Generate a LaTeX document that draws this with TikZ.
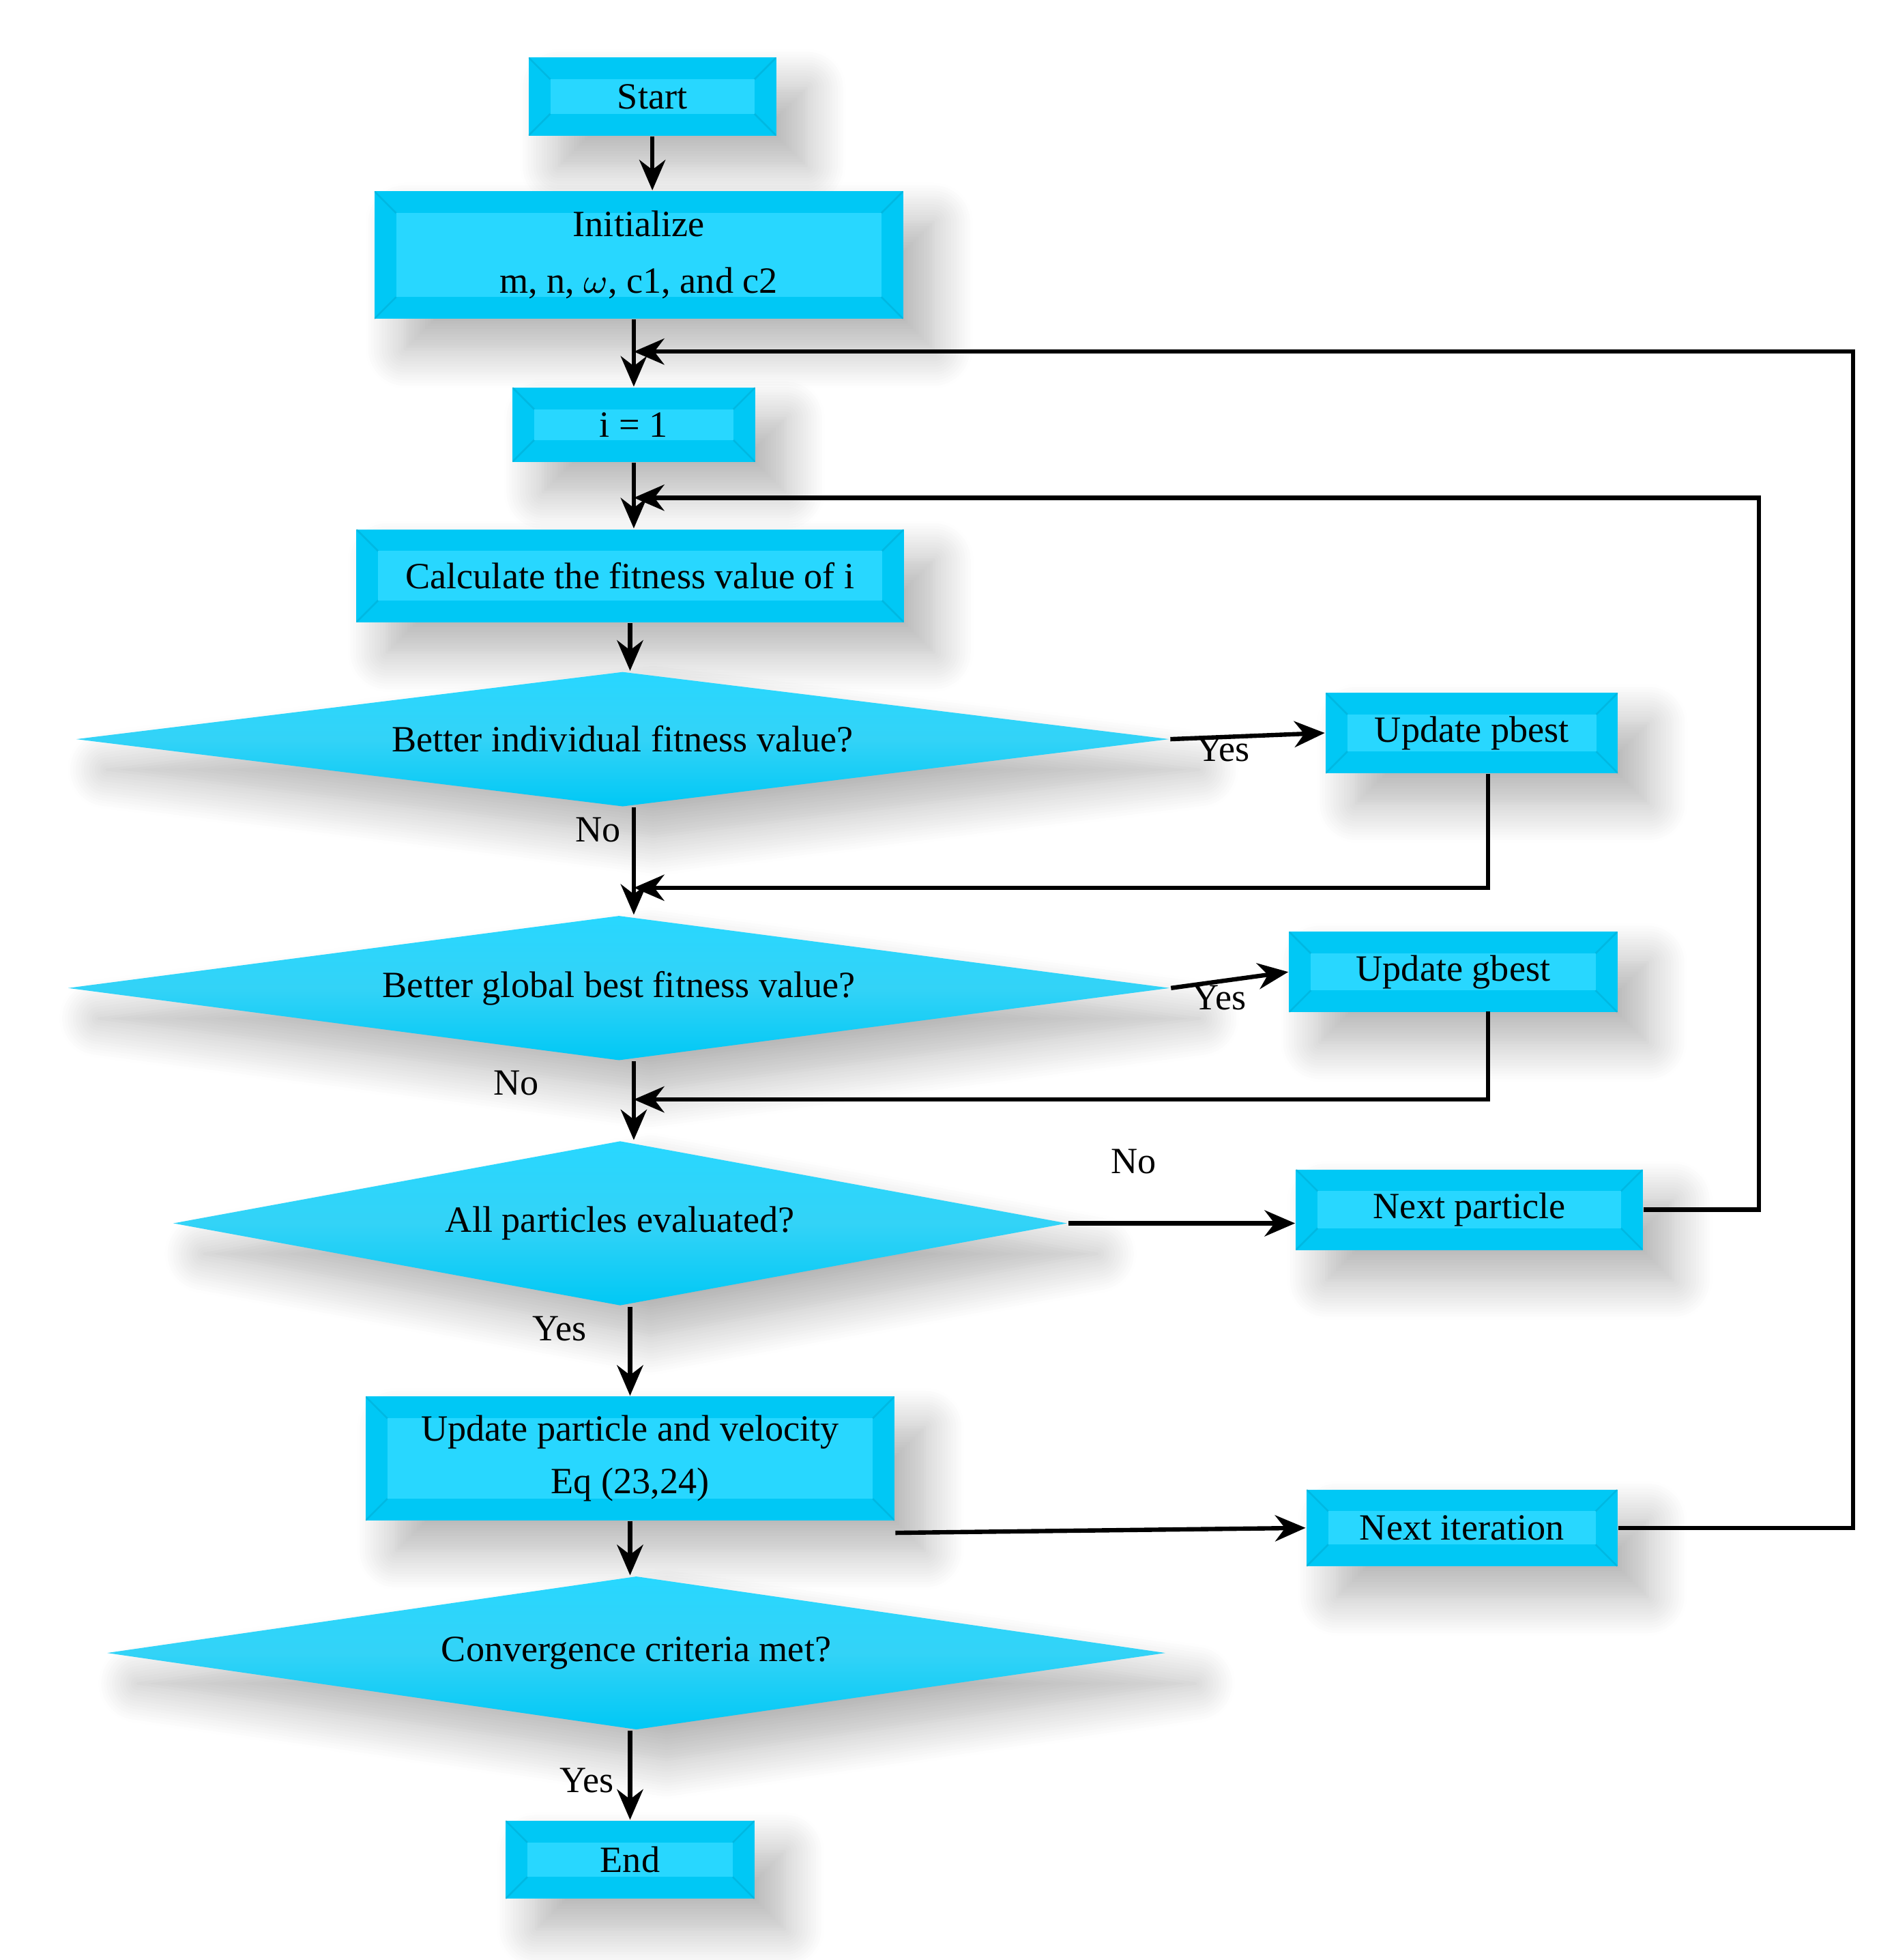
\documentclass[tikz,border=0pt]{standalone}
\usepackage{fontspec}
\setmainfont{Liberation Serif}
\usetikzlibrary{shapes.geometric,shadows.blur,arrows.meta}
\definecolor{cy}{RGB}{0,200,245}
\definecolor{cyl}{RGB}{40,215,255}
\begin{document}
\begin{tikzpicture}[x=0.01cm,y=-0.01cm,
  font=\fontsize{8.5}{11}\selectfont,
  shd/.style={blur shadow={shadow xshift=7pt,shadow yshift=-7pt,shadow blur radius=9pt,shadow blur steps=15,shadow opacity=30}},
  box/.style={draw=none,fill=cy,shd,align=center,inner sep=0,
    path picture={\fill[cyl] ([shift={(5pt,-5pt)}]path picture bounding box.north west) rectangle ([shift={(-5pt,5pt)}]path picture bounding box.south east);
      \draw[cy!70!black,opacity=0.25] (path picture bounding box.north west)--([shift={(5pt,-5pt)}]path picture bounding box.north west)
      (path picture bounding box.north east)--([shift={(-5pt,-5pt)}]path picture bounding box.north east)
      (path picture bounding box.south west)--([shift={(5pt,5pt)}]path picture bounding box.south west)
      (path picture bounding box.south east)--([shift={(-5pt,5pt)}]path picture bounding box.south east);}},
  dia/.style={diamond,draw=none,inner sep=0,aspect=8,top color=cyl,bottom color=cy,middle color=cy!80!white,shd},
  ar/.style={-{Stealth[length=7pt,width=6pt]},line width=1pt}]
\useasboundingbox (0,0) rectangle (1530,1583);
\node[box,minimum width=2cm,minimum height=0.63cm] (start) at (527,78) {Start};
\node[box,minimum width=4.27cm,minimum height=1.03cm] (init) at (516,206) {Initialize\\[2pt] m, n, $\omega$, c1, and c2};
\node[box,minimum width=1.96cm,minimum height=0.6cm] (i1) at (512,343) {i = 1};
\node[box,minimum width=4.42cm,minimum height=0.75cm] (calc) at (509,465) {Calculate the fitness value of i};
\node[dia,minimum width=8.83cm,minimum height=1.09cm] (d1) at (503,597) {Better individual fitness value?};
\node[box,minimum width=2.36cm,minimum height=0.65cm] (pb) at (1189,592) {Update pbest};
\node[dia,minimum width=8.9cm,minimum height=1.17cm] (d2) at (500,798) {Better global best fitness value?};
\node[box,minimum width=2.65cm,minimum height=0.65cm] (gb) at (1174,785) {Update gbest};
\node[dia,minimum width=7.22cm,minimum height=1.33cm] (d3) at (501,988) {All particles evaluated?};
\node[box,minimum width=2.8cm,minimum height=0.65cm] (np) at (1187,977) {Next particle};
\node[box,minimum width=4.27cm,minimum height=1cm] (up) at (509,1178) {Update particle and velocity\\[1pt] Eq (23,24)};
\node[box,minimum width=2.51cm,minimum height=0.62cm] (ni) at (1181,1234) {Next iteration};
\node[dia,minimum width=8.55cm,minimum height=1.24cm] (d4) at (514,1335) {Convergence criteria met?};
\node[box,minimum width=2.01cm,minimum height=0.63cm] (end) at (509,1502) {End};
\coordinate (j1) at (512,284);
\coordinate (j2) at (512,402);
\coordinate (j3) at (512,717);
\coordinate (j4) at (512,888);
\draw[ar] (start) -- (start|-init.north);
\draw[ar] (init.south-|i1) -- (i1);
\draw[ar] (i1) -- (i1|-calc.north);
\draw[ar] (calc) -- (calc|-d1.north);
\draw[ar] (d1.south-|j3) -- (j3|-d2.north);
\draw[ar] (d2.south-|j4) -- (j4|-d3.north);
\draw[ar] (d3.south-|up) -- (up);
\draw[ar] (up) -- (up|-d4.north);
\draw[ar] (d4.south-|end) -- (end);
\draw[ar] (d1.east) -- (pb.west);
\draw[ar] (d2.east) -- (gb.west);
\draw[ar] (d3.east) -- (np.west|-d3.east);
\draw[ar] (up.east|-ni) ++(0,4) -- (ni.west);
\draw[ar] (1202,625) -- (1202,717) -- (j3);
\draw[ar] (1202,817) -- (1202,888) -- (j4);
\draw[ar] (np.east) -- (1421,977) -- (1421,402) -- (j2);
\draw[ar] (ni.east) -- (1497,1234) -- (1497,284) -- (j1);
\node at (988,605) {Yes};
\node at (483,670) {No};
\node at (985,806) {Yes};
\node at (417,875) {No};
\node at (916,938) {No};
\node at (452,1073) {Yes};
\node at (474,1438) {Yes};
\end{tikzpicture}
\end{document}
